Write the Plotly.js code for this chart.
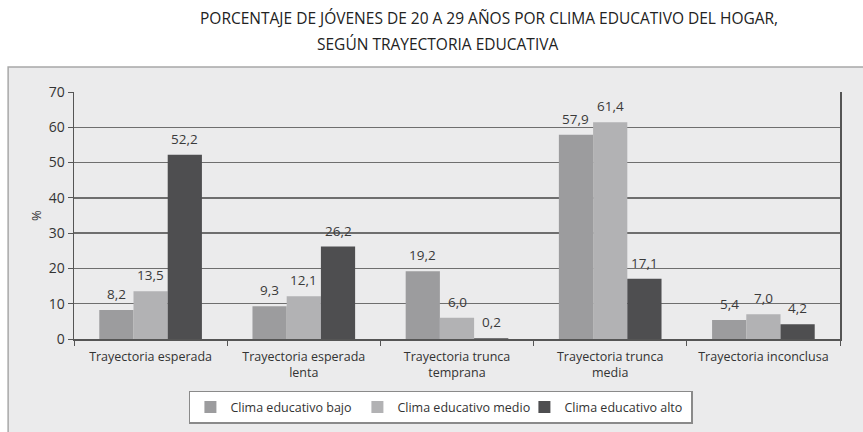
<!DOCTYPE html>
<html>
<head>
<meta charset="utf-8">
<script src="https://cdn.plot.ly/plotly-3.0.1.min.js"></script>
<style>
  body { margin: 0; background: #fff; }
  #chart { width: 863px; height: 432px; }
</style>
</head>
<body>
<div id="chart"></div>
<script>
// data
var categories = ['Trayectoria esperada', 'Trayectoria esperada<br>lenta', 'Trayectoria trunca<br>temprana', 'Trayectoria trunca<br>media', 'Trayectoria inconclusa'];
var seriesNames = ['Clima educativo bajo', 'Clima educativo medio', 'Clima educativo alto'];
var bajo = [8.2, 9.3, 19.2, 57.9, 5.4];
var medio = [13.5, 12.1, 6.0, 61.4, 7.0];
var alto = [52.2, 26.2, 0.2, 17.1, 4.2];
var yTicks = [0, 10, 20, 30, 40, 50, 60, 70];

var colors = ['#9c9c9e', '#b2b2b4', '#4e4e50'];
var allSeries = [bajo, medio, alto];
var BARGAP = 0.33;

var data = [];
for (let s = 0; s < allSeries.length; s++) {
    data.push({
        type: 'bar',
        x: categories,
        y: allSeries[s],
        name: seriesNames[s],
        marker: { color: colors[s], line: { width: 0 } },
        hoverinfo: 'none'
    });
}

// value labels above bars
var annotations = [];
var barW = (1 - BARGAP) / allSeries.length;
for (let s = 0; s < allSeries.length; s++) {
    for (let i = 0; i < categories.length; i++) {
        annotations.push({
            x: i + (s - 1) * barW,
            y: allSeries[s][i],
            xref: 'x', yref: 'y',
            text: allSeries[s][i].toFixed(1).replace('.', ','),
            showarrow: false,
            yanchor: 'bottom',
            yshift: 5,
            font: { family: 'Open Sans, sans-serif', size: 13.5, color: '#3a3a3a' }
        });
    }
}

// title lines
annotations.push({
    xref: 'paper', yref: 'paper', x: 0.5418, y: 1.30,
    text: 'PORCENTAJE DE JÓVENES DE 20 A 29 AÑOS POR CLIMA EDUCATIVO DEL HOGAR,',
    showarrow: false, xanchor: 'center', yanchor: 'middle',
    font: { family: 'Open Sans, sans-serif', size: 15.5, color: '#222' }
});
annotations.push({
    xref: 'paper', yref: 'paper', x: 0.4739, y: 1.194,
    text: 'SEGÚN TRAYECTORIA EDUCATIVA',
    showarrow: false, xanchor: 'center', yanchor: 'middle',
    font: { family: 'Open Sans, sans-serif', size: 15.5, color: '#222' }
});

var layout = {
    width: 863,
    height: 432,
    margin: { l: 74, r: 23, t: 92, b: 93, pad: 0 },
    paper_bgcolor: '#ffffff',
    plot_bgcolor: 'rgba(0,0,0,0)',
    font: { family: 'Open Sans, sans-serif', size: 12.5, color: '#333' },
    barmode: 'group',
    bargap: BARGAP,
    bargroupgap: 0,
    separators: ',.',
    showlegend: true,
    legend: {
        orientation: 'h',
        xref: 'paper', yref: 'container',
        x: 0.479, xanchor: 'center',
        y: 0.095, yanchor: 'top',
        bgcolor: '#ffffff',
        bordercolor: '#8a8a8a',
        borderwidth: 1.5,
        entrywidth: 122,
        font: { size: 12.5, color: '#333' },
        itemclick: false
    },
    xaxis: {
        type: 'category',
        automargin: false,
        showline: true,
        linecolor: '#555',
        linewidth: 1.5,
        ticks: 'outside',
        tickson: 'boundaries',
        ticklen: 5,
        tickcolor: '#555',
        ticklabelstandoff: 5,
        showgrid: false,
        tickfont: { size: 12.5, color: '#333' },
        fixedrange: true
    },
    yaxis: {
        range: [0, 70],
        automargin: false,
        tickvals: yTicks,
        showline: true,
        mirror: true,
        linecolor: '#555',
        linewidth: 1.5,
        ticks: 'outside',
        ticklen: 5,
        tickcolor: '#555',
        showgrid: true,
        gridcolor: '#6e6e6e',
        gridwidth: 1.3,
        zeroline: false,
        tickfont: { size: 14, color: '#333' },
        title: { text: '%', font: { size: 13, color: '#333' }, standoff: 4 },
        fixedrange: true
    },
    shapes: [{
        type: 'rect', xref: 'paper', yref: 'paper', layer: 'below',
        x0: -0.086, x1: 1.06, y0: -0.5, y1: 1.101,
        fillcolor: '#ebebec',
        line: { color: '#a8a8a8', width: 1.5 }
    }],
    annotations: annotations
};

Plotly.newPlot('chart', data, layout, { displayModeBar: false, staticPlot: true });
</script>
</body>
</html>
